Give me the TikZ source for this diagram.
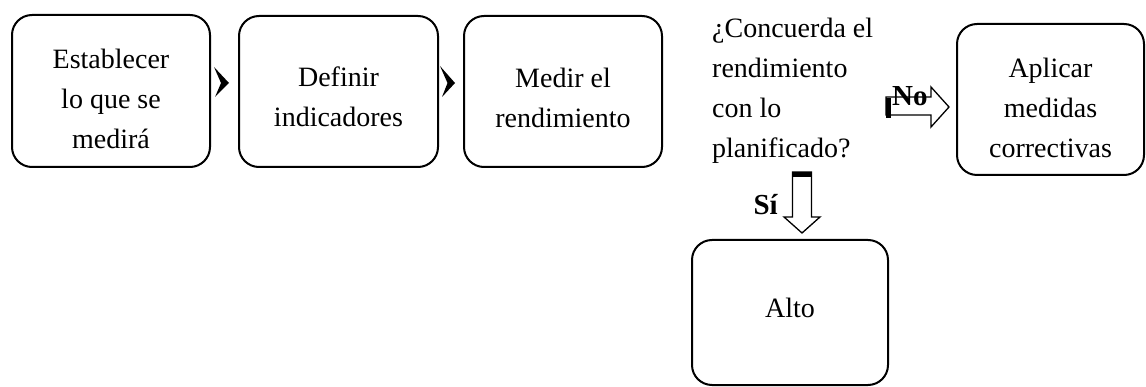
\documentclass[tikz,border=0pt]{standalone}
\usepackage{fontspec}
\setmainfont{Liberation Serif}
\usetikzlibrary{calc}
\begin{document}
\begin{tikzpicture}[x=1pt,y=-1pt,
  box/.style={draw, line width=2pt, rounded corners=20pt, inner sep=0pt},
  txt/.style={align=center, font=\fontsize{28}{40}\selectfont, inner sep=0pt},
  lbl/.style={font=\fontsize{29}{40}\selectfont\bfseries, inner sep=0pt},
  blk/.style={draw, line width=1.3pt, fill=white, line join=miter},
  bar/.style={fill=black},
  chev/.style={fill=black}]
\useasboundingbox (0,0) rectangle (1146,387);
% boxes
\node[box, minimum width=198pt, minimum height=152pt] (b1) at (111,91) {};
\node[box, minimum width=199pt, minimum height=151pt] (b2) at (338.5,91.5) {};
\node[box, minimum width=198pt, minimum height=151pt] (b3) at (563,91.5) {};
\node[box, minimum width=187pt, minimum height=151pt] (b4) at (1050.5,99.5) {};
\node[box, minimum width=196pt, minimum height=145pt] (b5) at (790,312.5) {};
% texts
\node[txt] (t1) at ([yshift=-8pt]b1.center) {Establecer\\lo que se\\medirá};
\node[txt] (t2) at ([yshift=-5pt]b2.center) {Definir\\indicadores};
\node[txt] (t3) at ([yshift=-6pt]b3.center) {Medir el\\rendimiento};
\node[txt] (t4) at ([yshift=-8pt]b4.center) {Aplicar\\medidas\\correctivas};
\node[txt] (t5) at ([yshift=5pt]b5.center) {Alto};
\node[txt, align=left, anchor=north west] (q) at (712,18) {¿Concuerda el\\rendimiento\\con lo\\planificado?};
% chevrons between boxes
\fill[chev] ($(b1.east)+(3,-24)$) -- ($(b1.east)+(18,-8)$) -- ($(b1.east)+(4,6)$) -- ($(b1.east)+(10,-8)$) -- cycle;
\fill[chev] ($(b2.east)+(1,-25.5)$) -- ($(b2.east)+(16,-8.5)$) -- ($(b2.east)+(3,5.5)$) -- ($(b2.east)+(8.5,-8.5)$) -- cycle;
% "No" block arrow toward b4
\coordinate (na) at ($(b4.west)+(-7,7.5)$);
\draw[blk] (na) -- ++(-18,-20) -- ++(0,10) -- ++(-45,0) -- ++(0,18) -- ++(45,0) -- ++(0,12) -- cycle;
\fill[bar] ($(na)+(-63,-9)$) rectangle ++(5,20);
\node[lbl, anchor=base west] (no) at (892,106) {No};
% "Sí" block arrow toward b5
\coordinate (sa) at ($(b5.north)+(12,-6)$);
\draw[blk] (sa) -- ++(-18,-16) -- ++(8.5,0) -- ++(0,-45) -- ++(19,0) -- ++(0,45) -- ++(8.5,0) -- cycle;
\fill[bar] ($(sa)+(-9.5,-61)$) rectangle ++(19,5);
\node[lbl, anchor=base east] (si) at (778,215) {Sí};
\end{tikzpicture}
\end{document}
